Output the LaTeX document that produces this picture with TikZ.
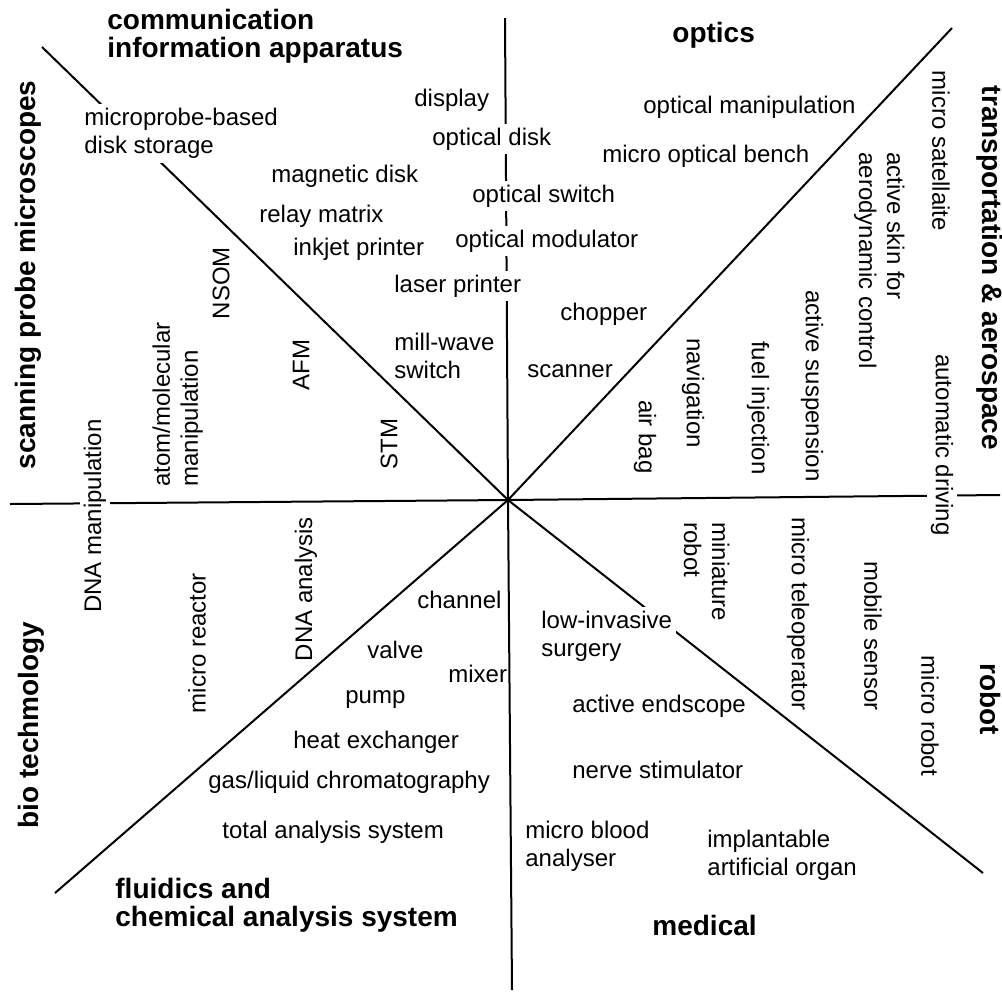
\documentclass[tikz,border=0pt]{standalone}
\usepackage{fontspec}
\setmainfont{Liberation Sans}
\begin{document}
\begin{tikzpicture}[x=0.5pt,y=-0.5pt,
  lbl/.style={inner sep=0pt, font=\fontsize{12}{14}\selectfont, align=left},
  hd/.style={inner sep=0pt, font=\fontsize{14}{14}\selectfont\bfseries, align=left},
  gap/.style={fill=white, inner sep=2pt},
  ln/.style={line width=1pt, black}]
\useasboundingbox (0,0) rectangle (1002,992);
% axes
\coordinate (c) at (508,500);
\coordinate (up) at (505,18);
\coordinate (dn) at (512,990);
\coordinate (lf) at (10,504);
\coordinate (rt) at (1000,495);
\coordinate (ul) at (42,47);
\coordinate (lr) at (983,873);
\coordinate (ur) at (952,28);
\coordinate (ll) at (55,893);
\draw[ln] (c) -- (up);
\draw[ln] (c) -- (dn);
\draw[ln] (c) -- (lf);
\draw[ln] (c) -- (rt);
\draw[ln] (c) -- (ul);
\draw[ln] (c) -- (lr);
\draw[ln] (c) -- (ur);
\draw[ln] (c) -- (ll);
% headings
\node[hd, anchor=north west] (comm) at (107,9) {communication\\information apparatus};
\node[hd, anchor=base west] (optics) at (672,42) {optics};
\node[hd, anchor=center, rotate=-90] (trans) at (990,268) {transportation \& aerospace};
\node[hd, anchor=center, rotate=-90] (robot) at (990,699) {robot};
\node[hd, anchor=base west] (medical) at (652,935) {medical};
\node[hd, anchor=north west] (fluid) at (115,878) {fluidics and\\chemical analysis system};
\node[hd, anchor=center, rotate=90] (bio) at (31,725) {bio techmology};
\node[hd, anchor=center, rotate=90] (spm) at (28,275) {scanning probe microscopes};
% communication
\node[lbl, gap, anchor=north west] (mpb) at (80,104) {microprobe-based\\disk storage};
\node[lbl, anchor=base west] (disp) at (414,106) {display};
\node[lbl, gap, anchor=base west] (odisk) at (428,145) {optical disk};
\node[lbl, anchor=base west] (mag) at (271,182) {magnetic disk};
\node[lbl, anchor=base west] (relay) at (259,222) {relay matrix};
\node[lbl, anchor=base west] (inkjet) at (293,255) {inkjet printer};
\node[lbl, gap, anchor=base west] (osw) at (468,202) {optical switch};
\node[lbl, gap, anchor=base west] (omod) at (451,247) {optical modulator};
\node[lbl, gap, anchor=base west] (laser) at (390,292) {laser printer};
\node[lbl, anchor=north west] (mill) at (394,333) {mill-wave\\switch};
% scanning probe
\node[lbl, anchor=center, rotate=90] (nsom) at (221,283) {NSOM};
\node[lbl, anchor=center, rotate=90] (afm) at (301,365) {AFM};
\node[lbl, anchor=center, rotate=90] (stm) at (389,444) {STM};
\node[lbl, anchor=north west, rotate=90] (atom) at (152,487) {atom/molecular\\manipulation};
\node[lbl, gap, anchor=center, rotate=90] (dnam) at (95,516) {DNA manipulation};
% optics
\node[lbl, anchor=base west] (omanip) at (643,113) {optical manipulation};
\node[lbl, anchor=base west] (mob) at (602,162) {micro optical bench};
\node[lbl, anchor=base west] (chop) at (560,320) {chopper};
\node[lbl, anchor=base west] (scan) at (527,377) {scanner};
% transportation
\node[lbl, anchor=center, rotate=-90] (msat) at (941,151) {micro satellaite};
\node[lbl, anchor=north west, rotate=-90] (askin) at (905,152) {active skin for\\aerodynamic control};
\node[lbl, anchor=center, rotate=-90] (asusp) at (812,386) {active suspension};
\node[lbl, anchor=center, rotate=-90] (fuel) at (758,408) {fuel injection};
\node[lbl, anchor=center, rotate=-90] (nav) at (693,393) {navigation};
\node[lbl, anchor=center, rotate=-90] (airbag) at (645,437) {air bag};
\node[lbl, gap, anchor=center, rotate=-90] (auto) at (942,445) {automatic driving};
% robot
\node[lbl, anchor=north west, rotate=-90] (mini) at (730,522) {miniature\\robot};
\node[lbl, anchor=center, rotate=-90] (mtele) at (798,614) {micro teleoperator};
\node[lbl, anchor=center, rotate=-90] (msens) at (873,636) {mobile sensor};
\node[lbl, anchor=center, rotate=-90] (mrob) at (930,716) {micro robot};
% medical
\node[lbl, gap, anchor=north west] (lowinv) at (537,607) {low-invasive\\surgery};
\node[lbl, anchor=base west] (aend) at (572,712) {active endscope};
\node[lbl, anchor=base west] (nerve) at (572,778) {nerve stimulator};
\node[lbl, anchor=north west] (mblood) at (525,821) {micro blood\\analyser};
\node[lbl, anchor=north west] (implant) at (707,830) {implantable\\artificial organ};
% fluidics
\node[lbl, anchor=base west] (chan) at (417,608) {channel};
\node[lbl, anchor=base west] (valve) at (367,658) {valve};
\node[lbl, anchor=base west] (mixer) at (448,682) {mixer};
\node[lbl, anchor=base west] (pump) at (345,703) {pump};
\node[lbl, anchor=base west] (heat) at (293,748) {heat exchanger};
\node[lbl, anchor=base west] (gas) at (208,788) {gas/liquid chromatography};
\node[lbl, anchor=base west] (tas) at (222,838) {total analysis system};
% bio
\node[lbl, anchor=center, rotate=90] (mreact) at (197,643) {micro reactor};
\node[lbl, anchor=center, rotate=90] (dnaa) at (306,589) {DNA analysis};
\end{tikzpicture}
\end{document}
